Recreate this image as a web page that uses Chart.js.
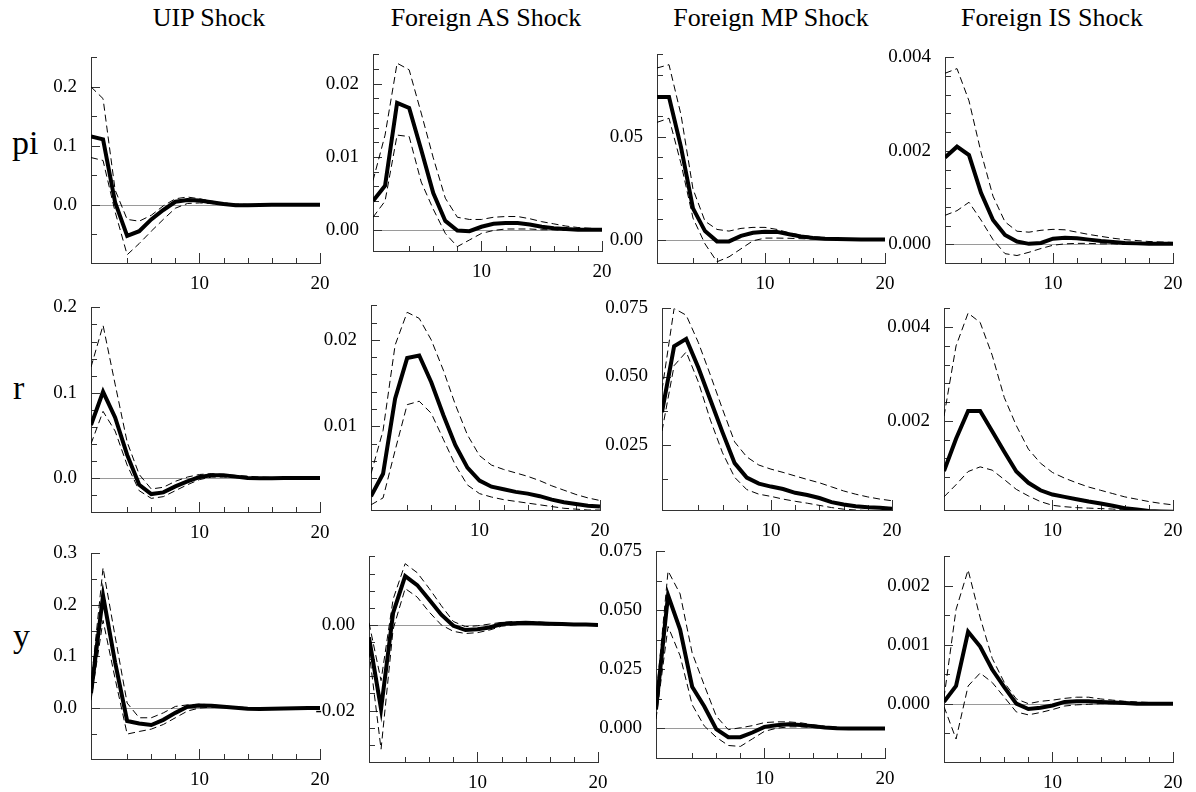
<!DOCTYPE html>
<html>
<head>
<meta charset="utf-8">
<script src="https://cdn.jsdelivr.net/npm/chart.js@4"></script>
<style>
  body { margin: 0; background: #fff; }
  #page { position: relative; width: 1196px; height: 792px; overflow: hidden;
          font-family: 'Times New Roman', 'Liberation Serif', 'DejaVu Serif', serif; color: #000; }
  #page canvas { position: absolute; }
  .shock { position: absolute; top: 5px; width: 280px; font-size: 26px; line-height: 26px; text-align: center; }
  .row { position: absolute; font-size: 34px; line-height: 34px; }
</style>
</head>
<body>
<div id="page"></div>
<script>
// horizon
const periods = [1, 2, 3, 4, 5, 6, 7, 8, 9, 10, 11, 12, 13, 14, 15, 16, 17, 18, 19, 20];
const shocks = ['UIP Shock', 'Foreign AS Shock', 'Foreign MP Shock', 'Foreign IS Shock'];
const rowNames = ['pi', 'r', 'y'];

// pi responses (mean, upper band, lower band)
const piUip   = [0.116, 0.111, 0.004, -0.053, -0.045, -0.025, -0.009, 0.005, 0.008, 0.007, 0.004, 0.001, -0.001, -0.001, -0.0005, 0, 0, 0, 0, 0];
const piUipHi = [0.200, 0.180, 0.025, -0.025, -0.028, -0.018, -0.002, 0.010, 0.013, 0.010, 0.006, 0.003, 0.001, 0.0005, 0.0003, 0.0002, 0.0001, 0.0001, 0, 0];
const piUipLo = [0.080, 0.075, -0.012, -0.085, -0.066, -0.045, -0.025, -0.006, 0.002, 0.003, 0.002, 0, -0.002, -0.002, -0.0015, -0.001, -0.0005, -0.0003, -0.0001, 0];
const piAs    = [0.0040, 0.0061, 0.0174, 0.0167, 0.0110, 0.0051, 0.0013, 0.0000, -0.0001, 0.0005, 0.0009, 0.0010, 0.0010, 0.0008, 0.0005, 0.0003, 0.0002, 0.0001, 0.0001, 0.0001];
const piAsHi  = [0.0068, 0.0130, 0.0228, 0.0219, 0.0160, 0.0099, 0.0044, 0.0018, 0.0015, 0.0015, 0.0018, 0.0019, 0.0019, 0.0016, 0.0012, 0.0009, 0.0006, 0.0004, 0.0003, 0.0002];
const piAsLo  = [0.0018, 0.0040, 0.0130, 0.0128, 0.0066, 0.0029, -0.0004, -0.0022, -0.0013, -0.0004, 0.0000, 0.0002, 0.0002, 0.0002, 0.0001, 0.0001, 0, 0, 0, 0];
const piMp    = [0.0693, 0.0693, 0.0450, 0.0152, 0.0042, -0.0008, -0.0008, 0.0019, 0.0034, 0.0039, 0.0038, 0.0027, 0.0016, 0.0009, 0.0005, 0.0003, 0.0002, 0.0001, 0.0001, 0.0001];
const piMpHi  = [0.0834, 0.0850, 0.0607, 0.0246, 0.0090, 0.0050, 0.0042, 0.0055, 0.0060, 0.0060, 0.0050, 0.0034, 0.0022, 0.0015, 0.0010, 0.0007, 0.0005, 0.0004, 0.0003, 0.0002];
const piMpLo  = [0.0570, 0.0590, 0.0370, 0.0105, -0.0020, -0.0107, -0.0083, -0.0044, -0.0005, 0.0008, 0.0008, 0.0007, 0.0005, 0.0003, 0.0002, 0.0001, 0.0001, 0, 0, 0];
const piIs    = [0.00186, 0.00209, 0.00191, 0.00110, 0.00052, 0.00020, 0.00006, 0.00001, 0.00003, 0.00012, 0.00014, 0.00013, 0.00010, 0.00007, 0.00005, 0.00003, 0.00002, 0.00001, 0.00001, 0.00001];
const piIsHi  = [0.00366, 0.00376, 0.00307, 0.00197, 0.00103, 0.00048, 0.00028, 0.00026, 0.00030, 0.00032, 0.00031, 0.00026, 0.00021, 0.00017, 0.00013, 0.00010, 0.00008, 0.00006, 0.00005, 0.00004];
const piIsLo  = [0.00062, 0.00072, 0.00090, 0.00052, 0.00010, -0.00020, -0.00024, -0.00017, -0.00009, -0.00002, 0.00001, 0.00002, 0.00002, 0.00001, 0.00001, 0, 0, 0, 0, 0];

// r responses
const rUip   = [0.062, 0.101, 0.071, 0.027, -0.008, -0.019, -0.017, -0.010, -0.004, 0.001, 0.003, 0.003, 0.0015, 0, -0.0004, -0.0003, -0.0002, -0.0001, 0, 0];
const rUipHi = [0.130, 0.179, 0.110, 0.042, 0.004, -0.013, -0.011, -0.004, 0.001, 0.004, 0.005, 0.004, 0.003, 0.002, 0.001, 0.0005, 0.0003, 0.0002, 0.0001, 0];
const rUipLo = [0.040, 0.078, 0.055, 0.015, -0.015, -0.024, -0.022, -0.015, -0.008, -0.002, 0.001, 0.001, 0.0005, -0.001, -0.0012, -0.001, -0.0007, -0.0004, -0.0002, -0.0001];
const rAs    = [0.0019, 0.0045, 0.0132, 0.0179, 0.0182, 0.0151, 0.0113, 0.0078, 0.0052, 0.0037, 0.0030, 0.0027, 0.0024, 0.0022, 0.0019, 0.0015, 0.0012, 0.0010, 0.0008, 0.0007];
const rAsHi  = [0.0045, 0.0095, 0.0194, 0.0232, 0.0225, 0.0200, 0.0165, 0.0125, 0.0090, 0.0066, 0.0055, 0.0050, 0.0046, 0.0042, 0.0037, 0.0031, 0.0026, 0.0021, 0.0017, 0.0014];
const rAsLo  = [0.0009, 0.0017, 0.0072, 0.0125, 0.0129, 0.0115, 0.0085, 0.0055, 0.0032, 0.0022, 0.0018, 0.0015, 0.0013, 0.0011, 0.0009, 0.0007, 0.0005, 0.0004, 0.0003, 0.0003];
const rMp    = [0.0369, 0.0611, 0.0638, 0.0533, 0.0414, 0.0295, 0.0182, 0.0129, 0.0107, 0.0096, 0.0087, 0.0073, 0.0065, 0.0054, 0.0039, 0.0030, 0.0024, 0.0020, 0.0018, 0.0015];
const rMpHi  = [0.0450, 0.0750, 0.0725, 0.0625, 0.0505, 0.0380, 0.0260, 0.0205, 0.0175, 0.0160, 0.0148, 0.0135, 0.0122, 0.0110, 0.0095, 0.0080, 0.0068, 0.0058, 0.0050, 0.0044];
const rMpLo  = [0.0300, 0.0540, 0.0590, 0.0480, 0.0340, 0.0220, 0.0130, 0.0085, 0.0068, 0.0060, 0.0050, 0.0042, 0.0035, 0.0027, 0.0019, 0.0013, 0.0010, 0.0008, 0.0006, 0.0005];
const rIs    = [0.00093, 0.00162, 0.00221, 0.00221, 0.00178, 0.00134, 0.00092, 0.00068, 0.00052, 0.00043, 0.00038, 0.00033, 0.00028, 0.00024, 0.00019, 0.00014, 0.00011, 0.00008, 0.00007, 0.00006];
const rIsHi  = [0.0021, 0.0036, 0.0043, 0.0041, 0.0034, 0.0025, 0.0019, 0.0014, 0.0011, 0.0009, 0.00078, 0.00068, 0.00059, 0.00052, 0.00045, 0.00038, 0.00033, 0.00028, 0.00024, 0.00021];
const rIsLo  = [0.00038, 0.00064, 0.00092, 0.00102, 0.00095, 0.00075, 0.00054, 0.00040, 0.00028, 0.00020, 0.00017, 0.00015, 0.00014, 0.00013, 0.00012, 0.00010, 0.00009, 0.00008, 0.00007, 0.00006];

// y responses
const yUip   = [0.0285, 0.218, 0.0886, -0.0253, -0.030, -0.033, -0.023, -0.0095, 0.0025, 0.005, 0.0044, 0.0025, 0.0006, -0.0013, -0.002, -0.0015, -0.001, -0.0005, 0, 0];
const yUipHi = [0.045, 0.272, 0.139, 0.0095, -0.019, -0.019, -0.0095, 0.003, 0.006, 0.0076, 0.006, 0.004, 0.002, 0.001, 0, 0, 0, 0, 0, 0];
const yUipLo = [0.015, 0.170, 0.057, -0.0506, -0.0456, -0.041, -0.032, -0.019, -0.006, 0, 0.0015, 0.001, 0, -0.002, -0.003, -0.003, -0.002, -0.001, -0.0005, 0];
const yAs    = [-0.0029, -0.0196, 0.0028, 0.0114, 0.0093, 0.0059, 0.0024, -0.0002, -0.0012, -0.0010, -0.0006, 0.0002, 0.0004, 0.0005, 0.0004, 0.0003, 0.0002, 0.0001, 0.0001, 0];
const yAsHi  = [0.0005, -0.0130, 0.0060, 0.0143, 0.0122, 0.0085, 0.0045, 0.0008, -0.0004, -0.0002, 0.0002, 0.0006, 0.0008, 0.0008, 0.0007, 0.0005, 0.0004, 0.0003, 0.0002, 0.0001];
const yAsLo  = [-0.0060, -0.0290, -0.0010, 0.0085, 0.0065, 0.0030, 0, -0.0015, -0.0020, -0.0018, -0.0012, -0.0003, 0, 0.0002, 0.0001, 0, 0, 0, 0, 0];
const yMp    = [0.0080, 0.0564, 0.0419, 0.0177, 0.0094, -0.0003, -0.0037, -0.0037, -0.0017, 0.0007, 0.0014, 0.0018, 0.0015, 0.0010, 0.0004, 0.0001, 0, 0, 0, 0];
const yMpHi  = [0.0120, 0.0667, 0.0570, 0.0320, 0.0184, 0.0052, -0.0005, 0.0003, 0.0012, 0.0025, 0.0028, 0.0028, 0.0024, 0.0016, 0.0009, 0.0005, 0.0003, 0.0002, 0.0001, 0];
const yMpLo  = [0.0040, 0.0432, 0.0308, 0.0101, 0.0011, -0.0037, -0.0072, -0.0076, -0.0044, -0.0012, 0.0001, 0.0007, 0.0007, 0.0004, 0.0001, 0, 0, 0, 0, 0];
const yIs    = [0.00003, 0.00030, 0.00122, 0.00097, 0.00058, 0.00028, 0, -0.00009, -0.00007, -0.00003, 0.00003, 0.00004, 0.00004, 0.00003, 0.00002, 0.00001, 0, 0, 0, 0];
const yIsHi  = [0.00010, 0.00160, 0.00227, 0.00146, 0.00077, 0.00036, 0.00008, 0, 0.00004, 0.00006, 0.00009, 0.00011, 0.00011, 0.00008, 0.00006, 0.00004, 0.00003, 0.00002, 0.00001, 0];
const yIsLo  = [-0.00005, -0.00060, 0.00030, 0.00052, 0.00036, 0.00011, -0.00014, -0.00019, -0.00015, -0.00010, -0.00004, -0.00002, -0.00001, 0, 0, 0, 0, 0, 0, 0];

// y axis ranges: [min, max, minor step, labelled step, decimals]
const axes = [
  [[-0.099, 0.25, 0.05, 0.1, 1], [-0.0028, 0.024, 0.002, 0.01, 2], [-0.0113, 0.09, 0.01, 0.05, 2], [-0.0004, 0.004, 0.0004, 0.002, 3]],
  [[-0.04, 0.2, 0.02, 0.1, 1], [0.0003, 0.024, 0.002, 0.01, 2], [0.001, 0.075, 0.0125, 0.025, 3], [0.0001, 0.0044, 0.0004, 0.002, 3]],
  [[-0.099, 0.3, 0.05, 0.1, 1], [-0.032, 0.016, 0.004, 0.02, 2], [-0.0125, 0.075, 0.0125, 0.025, 3], [-0.00099, 0.0025, 0.0005, 0.001, 3]]
];

const series = [
  [[piUip, piUipHi, piUipLo], [piAs, piAsHi, piAsLo], [piMp, piMpHi, piMpLo], [piIs, piIsHi, piIsLo]],
  [[rUip, rUipHi, rUipLo], [rAs, rAsHi, rAsLo], [rMp, rMpHi, rMpLo], [rIs, rIsHi, rIsLo]],
  [[yUip, yUipHi, yUipLo], [yAs, yAsHi, yAsLo], [yMp, yMpHi, yMpLo], [yIs, yIsHi, yIsLo]]
];

// plot boxes on the page: left, top, right, bottom
const boxes = [
  [[91, 52, 320, 263], [373, 49, 602, 251], [657, 49, 885, 263], [945, 52, 1173, 263]],
  [[91, 302, 320, 512], [371, 300, 600, 510], [662, 303, 892, 510], [944, 303, 1173, 510]],
  [[91, 548, 320, 759], [369, 551, 598, 762], [656, 546, 885, 758], [944, 551, 1173, 762]]
];
const titleX = [209, 486, 771, 1052];
const rowPos = [[12, 126], [13, 371], [13, 619]];

const FONT = "'Times New Roman', 'Liberation Serif', 'DejaVu Serif', serif";
const PAD_L = 70, PAD_T = 12, PAD_R = 14, PAD_B = 28;

const page = document.getElementById('page');

function isMult(v, s) {
  const q = v / s;
  return Math.abs(q - Math.round(q)) < 1e-6;
}

function fmt(v, digits) {
  if (Math.abs(v) < 1e-12) v = 0;
  return v.toFixed(digits);
}

function toXY(arr) {
  return periods.map((t, i) => ({ x: t, y: arr[i] }));
}

// zero line and inward tick marks, like the original graphs
const innerTicks = {
  id: 'innerTicks',
  beforeDatasetsDraw(chart, args, opts) {
    const { ctx, chartArea: a, scales: { x, y } } = chart;
    ctx.save();
    if (y.min < 0 && y.max > 0) {
      const y0 = Math.round(y.getPixelForValue(0)) + 0.5;
      ctx.strokeStyle = '#9a9a9a';
      ctx.lineWidth = 1;
      ctx.beginPath();
      ctx.moveTo(a.left, y0);
      ctx.lineTo(a.right, y0);
      ctx.stroke();
    }
    ctx.strokeStyle = '#333';
    ctx.lineWidth = 1;
    ctx.beginPath();
    y.ticks.forEach(t => {
      if (!isMult(t.value, opts.yStep)) return;
      const py = Math.round(y.getPixelForValue(t.value)) + 0.5;
      const len = isMult(t.value, opts.yLabelStep) ? 9 : 6;
      ctx.moveTo(a.left, py);
      ctx.lineTo(a.left + len, py);
    });
    x.ticks.forEach(t => {
      if (!isMult(t.value, 2)) return;
      const px = Math.round(x.getPixelForValue(t.value)) + 0.5;
      const len = isMult(t.value, 10) ? 10 : 5;
      ctx.moveTo(px, a.bottom);
      ctx.lineTo(px, a.bottom - len);
    });
    ctx.stroke();
    ctx.restore();
  }
};

shocks.forEach((s, c) => {
  const d = document.createElement('div');
  d.className = 'shock';
  d.style.left = (titleX[c] - 140) + 'px';
  d.textContent = s;
  page.appendChild(d);
});

rowNames.forEach((n, r) => {
  const d = document.createElement('div');
  d.className = 'row';
  d.style.left = rowPos[r][0] + 'px';
  d.style.top = rowPos[r][1] + 'px';
  d.textContent = n;
  page.appendChild(d);
});

for (let r = 0; r < 3; r += 1) {
  for (let c = 0; c < 4; c += 1) {
    const [l, t, rt, b] = boxes[r][c];
    const [yMin, yMax, yStep, yLabelStep, digits] = axes[r][c];
    const [mean, hi, lo] = series[r][c];

    const cv = document.createElement('canvas');
    cv.width = rt - l + PAD_L + PAD_R;
    cv.height = b - t + PAD_T + PAD_B;
    cv.style.left = (l - PAD_L) + 'px';
    cv.style.top = (t - PAD_T) + 'px';
    page.appendChild(cv);

    const band = { borderColor: '#000', borderWidth: 1, borderDash: [7, 4], pointRadius: 0, tension: 0, fill: false };

    new Chart(cv.getContext('2d'), {
      type: 'line',
      data: {
        datasets: [
          Object.assign({ data: toXY(hi) }, band),
          Object.assign({ data: toXY(lo) }, band),
          { data: toXY(mean), borderColor: '#000', borderWidth: 4, pointRadius: 0, tension: 0, fill: false }
        ]
      },
      options: {
        responsive: false,
        animation: false,
        layout: { padding: { left: 0, top: PAD_T, right: PAD_R, bottom: 0 } },
        plugins: {
          legend: { display: false },
          tooltip: { enabled: false },
          innerTicks: { yStep: yStep, yLabelStep: yLabelStep }
        },
        scales: {
          x: {
            type: 'linear',
            min: 1,
            max: 20,
            grid: { display: false },
            border: { display: true, color: '#333', width: 1 },
            ticks: {
              stepSize: 2,
              autoSkip: false,
              maxRotation: 0,
              padding: 2,
              color: '#000',
              font: { family: FONT, size: 19 },
              callback: v => (v === 10 || v === 20) ? String(v) : ''
            },
            afterFit: s => { s.height = PAD_B; }
          },
          y: {
            min: yMin,
            max: yMax,
            grid: { display: false },
            border: { display: true, color: '#333', width: 1 },
            ticks: {
              stepSize: yStep,
              autoSkip: false,
              padding: 6,
              color: '#000',
              font: { family: FONT, size: 19 },
              callback: v => isMult(v, yLabelStep) ? fmt(v, digits) : ''
            },
            afterFit: s => { s.width = PAD_L; }
          }
        }
      },
      plugins: [innerTicks]
    });
  }
}
</script>
</body>
</html>
